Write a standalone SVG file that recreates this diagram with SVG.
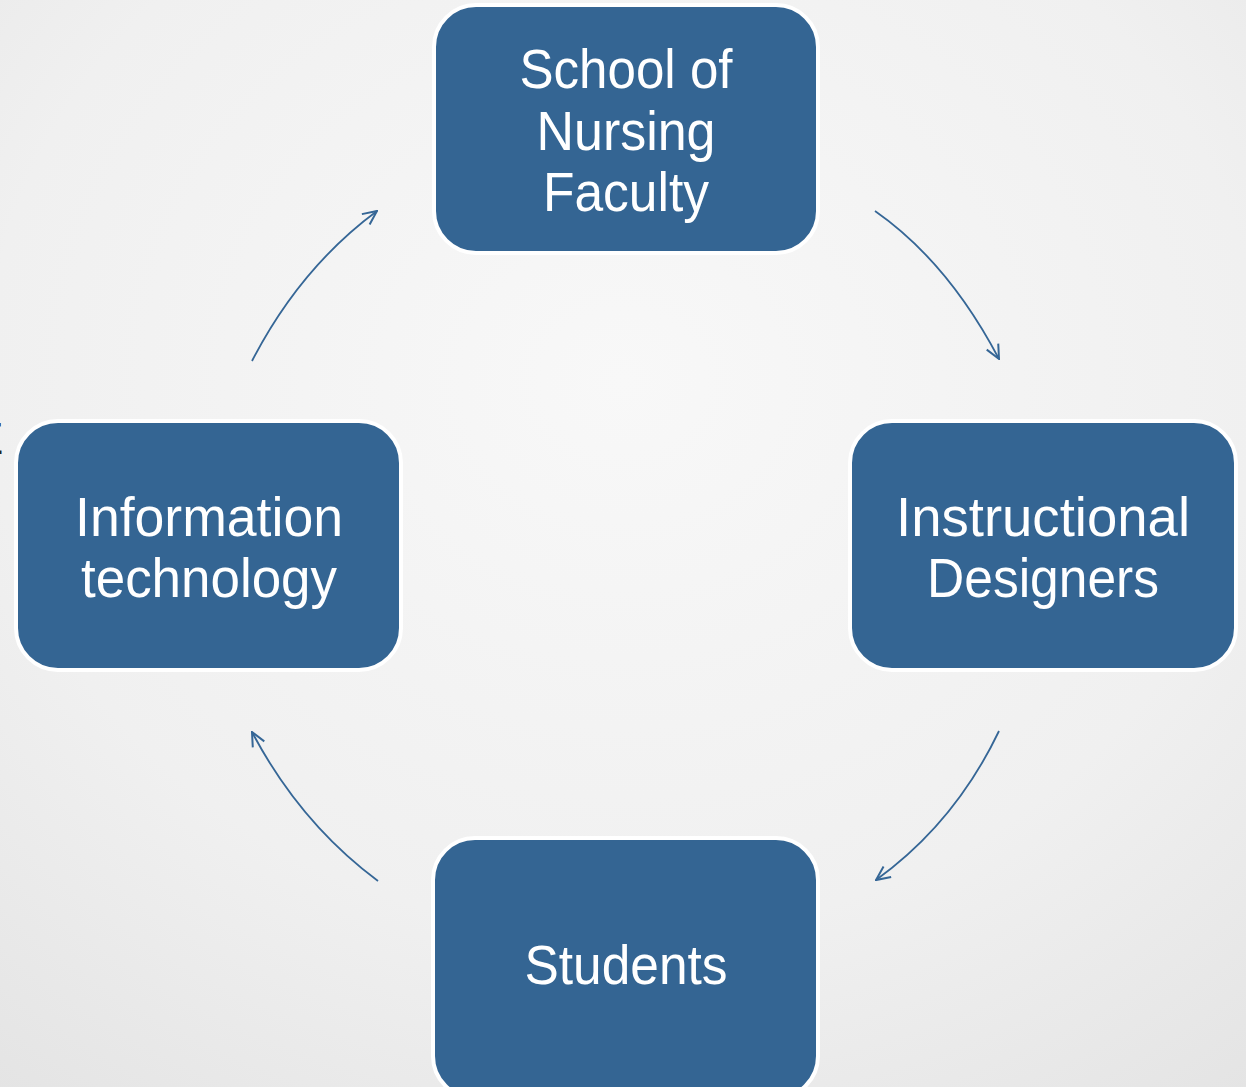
<svg xmlns="http://www.w3.org/2000/svg" width="1246" height="1087" viewBox="0 0 1246 1087">
<defs>
<radialGradient id="bg" cx="0.5" cy="0.35" r="0.85">
<stop offset="0" stop-color="#f8f8f8"/>
<stop offset="0.6" stop-color="#f0f0f0"/>
<stop offset="1" stop-color="#e3e3e3"/>
</radialGradient>
<marker id="ah" viewBox="0 0 16 16" refX="15" refY="8" markerWidth="16" markerHeight="16" markerUnits="userSpaceOnUse" orient="auto">
<path d="M1,1.5 L15,8 L1,14.5" fill="none" stroke="#356696" stroke-width="2"/>
</marker>
<style>
.box{fill:#346593;stroke:#ffffff;stroke-width:4}
.t{font-family:"Liberation Sans",Arial,sans-serif;font-size:56px;fill:#ffffff;text-anchor:middle}
.c{fill:none;stroke:#356696;stroke-width:1.8}
</style>
</defs>
<rect width="1246" height="1087" fill="url(#bg)"/>
<text x="-26" y="454" font-family="Liberation Sans, Arial, sans-serif" font-size="44" fill="#222">E</text>
<g id="connectors">
<path class="c" d="M875,211 Q948,262 999,359" marker-end="url(#ah)"/>
<path class="c" d="M999,731 Q955,823 876,880" marker-end="url(#ah)"/>
<path class="c" d="M378,881 Q300,823 252,732" marker-end="url(#ah)"/>
<path class="c" d="M252,361 Q300,268 377,211" marker-end="url(#ah)"/>
</g>
<g id="node-faculty">
<rect class="box" x="434" y="5" width="384" height="248" rx="42"/>
<text class="t" x="626" y="88" textLength="213" lengthAdjust="spacingAndGlyphs">School of</text>
<text class="t" x="626" y="150" textLength="179" lengthAdjust="spacingAndGlyphs">Nursing</text>
<text class="t" x="626" y="211" textLength="166" lengthAdjust="spacingAndGlyphs">Faculty</text>
</g>
<g id="node-designers">
<rect class="box" x="850" y="421" width="386" height="249" rx="42"/>
<text class="t" x="1043" y="536" textLength="294" lengthAdjust="spacingAndGlyphs">Instructional</text>
<text class="t" x="1043" y="597" textLength="232" lengthAdjust="spacingAndGlyphs">Designers</text>
</g>
<g id="node-students">
<rect class="box" x="433" y="838" width="385" height="260" rx="42"/>
<text class="t" x="626" y="984" textLength="203" lengthAdjust="spacingAndGlyphs">Students</text>
</g>
<g id="node-it">
<rect class="box" x="16" y="421" width="385" height="249" rx="42"/>
<text class="t" x="209" y="536" textLength="268" lengthAdjust="spacingAndGlyphs">Information</text>
<text class="t" x="209" y="597" textLength="256" lengthAdjust="spacingAndGlyphs">technology</text>
</g>
</svg>
